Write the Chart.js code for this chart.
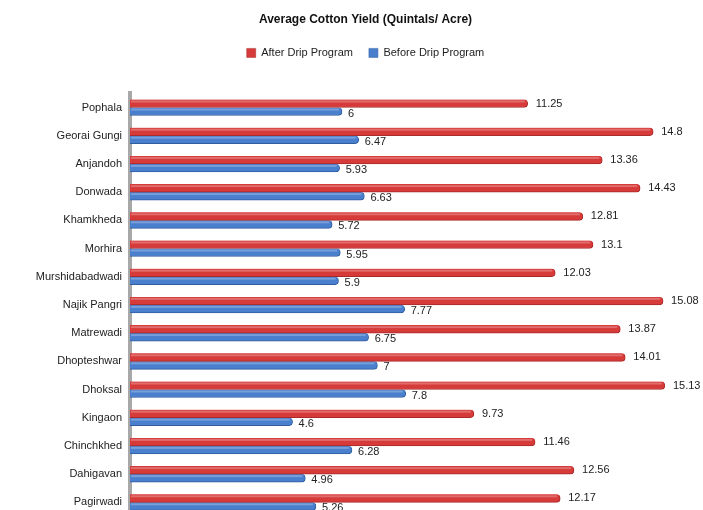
<!DOCTYPE html>
<html>
<head>
<meta charset="utf-8">
<script src="https://cdn.jsdelivr.net/npm/chart.js@4/dist/chart.umd.min.js"></script>
<style>
  html, body { margin: 0; padding: 0; background: #fff; overflow: hidden; }
  #wrap { width: 703px; height: 510px; overflow: hidden; position: relative; }
  #box { width: 731px; height: 531px; position: absolute; left: 0; top: 0; }
</style>
</head>
<body>
<div id="wrap"><div id="box"><canvas id="yieldChart"></canvas></div></div>
<script>
const villages = ['Pophala', 'Georai Gungi', 'Anjandoh', 'Donwada', 'Khamkheda', 'Morhira',
  'Murshidabadwadi', 'Najik Pangri', 'Matrewadi', 'Dhopteshwar', 'Dhoksal', 'Kingaon',
  'Chinchkhed', 'Dahigavan', 'Pagirwadi'];
const afterDrip = [11.25, 14.8, 13.36, 14.43, 12.81, 13.1, 12.03, 15.08, 13.87, 14.01, 15.13, 9.73, 11.46, 12.56, 12.17];
const beforeDrip = [6, 6.47, 5.93, 6.63, 5.72, 5.95, 5.9, 7.77, 6.75, 7, 7.8, 4.6, 6.28, 4.96, 5.26];

const font = "'Liberation Sans', Arial, sans-serif";

// extra room under the legend
const legendGap = {
    id: 'legendGap',
    beforeInit(chart) {
        const fit = chart.legend.fit;
        chart.legend.fit = function () {
            fit.bind(chart.legend)();
            this.height += 25;
        };
    }
};

// little highlight + value label for each bar
const barLabels = {
    id: 'barLabels',
    afterDatasetsDraw(chart) {
        const c = chart.ctx;
        chart.data.datasets.forEach((ds, i) => {
            const meta = chart.getDatasetMeta(i);
            meta.data.forEach((bar, j) => {
                const h = bar.height;
                c.save();
                c.fillStyle = 'rgba(255,255,255,0.25)';
                c.fillRect(bar.base + 1, bar.y - h / 2 + 1, bar.x - bar.base - 4, 2);
                c.restore();
                c.save();
                c.font = '11px ' + font;
                c.fillStyle = '#222';
                c.textBaseline = 'middle';
                c.fillText(String(ds.data[j]), bar.x + (i === 0 ? 8 : 6), bar.y + (i === 0 ? 0 : 2));
                c.restore();
            });
        });
    }
};

new Chart(document.getElementById('yieldChart'), {
    type: 'bar',
    data: {
        labels: villages,
        datasets: [
            { label: 'After Drip Program', data: afterDrip, backgroundColor: '#d63b3a',
              borderColor: '#a82a2a', borderWidth: { bottom: 1, right: 1 }, borderRadius: 4, borderSkipped: 'left',
              barThickness: 8 },
            { label: 'Before Drip Program', data: beforeDrip, backgroundColor: '#4a7fcd',
              borderColor: '#2f5d9e', borderWidth: { bottom: 1, right: 1 }, borderRadius: 4, borderSkipped: 'left',
              barThickness: 8 }
        ]
    },
    options: {
        indexAxis: 'y',
        responsive: true,
        maintainAspectRatio: false,
        animation: false,
        layout: { padding: { left: 0, right: 0, top: 10, bottom: 0 } },
        plugins: {
            title: {
                display: true,
                text: 'Average Cotton Yield (Quintals/ Acre)',
                color: '#111',
                font: { family: font, size: 12, weight: 'bold' },
                padding: { top: 2, bottom: 5 }
            },
            legend: {
                display: true,
                labels: {
                    color: '#222',
                    font: { family: font, size: 11 },
                    boxWidth: 9, boxHeight: 9,
                    padding: 16
                }
            },
            tooltip: { enabled: false }
        },
        scales: {
            x: {
                min: 0, max: 17,
                display: false
            },
            y: {
                grid: { display: false, drawTicks: false },
                border: { display: true, color: '#a8a8a8', width: 4 },
                ticks: { color: '#222', font: { family: font, size: 11 }, padding: 8 },
                afterFit(scale) { scale.width = 130; }
            }
        }
    },
    plugins: [legendGap, barLabels]
});
</script>
</body>
</html>
